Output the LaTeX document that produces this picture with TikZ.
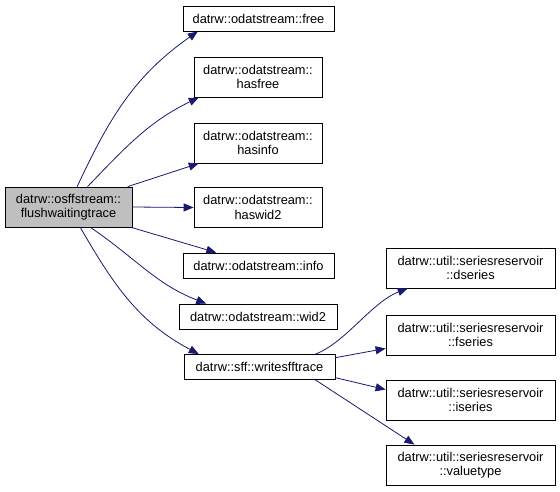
\documentclass[tikz,border=0pt]{standalone}
\usepackage{fontspec}
\setmainfont{Liberation Sans}
\usepackage{tikz}
\usetikzlibrary{arrows.meta}
\definecolor{edgeblue}{HTML}{191970}
\definecolor{maingray}{HTML}{BFBFBF}

\begin{document}
\begin{tikzpicture}[x=1pt,y=-1pt,
    box/.style={shape=rectangle,draw,line width=0.8pt,inner sep=0pt,align=center,
        font=\fontsize{12.8}{14.5}\selectfont},
    onebox/.style={box,minimum height=25pt},
    twobox/.style={box,minimum height=40pt},
    edge/.style={draw=edgeblue,line width=0.8pt,-{Triangle[length=10pt,width=8pt]}}]
    \useasboundingbox (0,0) rectangle (560,491);
    % caller
    \node (main) at (68.5,207) [twobox,fill=maingray,minimum width=127pt] {datrw::osffstream::\\flushwaitingtrace};
    % callees, first column
    \node (free) at (258.5,18.5) [onebox,minimum width=151pt] {datrw::odatstream::free};
    \node (hasfree) at (258,77) [twobox,minimum width=128pt] {datrw::odatstream::\\hasfree};
    \node (hasinfo) at (258,143) [twobox,minimum width=128pt] {datrw::odatstream::\\hasinfo};
    \node (haswid) at (258,207.5) [twobox,minimum width=128pt] {datrw::odatstream::\\haswid2};
    \node (info) at (258.5,265.5) [onebox,minimum width=151pt] {datrw::odatstream::info};
    \node (wid) at (258,316.5) [onebox,minimum width=158pt] {datrw::odatstream::wid2};
    \node (write) at (259.5,367) [onebox,minimum width=151pt] {datrw::sff::writesfftrace};
    % callees, second column
    \node (dseries) at (470.5,268) [twobox,minimum width=169pt] {datrw::util::seriesreservoir\\::dseries};
    \node (fseries) at (470.5,335) [twobox,minimum width=169pt] {datrw::util::seriesreservoir\\::fseries};
    \node (iseries) at (470.5,400) [twobox,minimum width=169pt] {datrw::util::seriesreservoir\\::iseries};
    \node (valuetype) at (470.5,465) [twobox,minimum width=169pt] {datrw::util::seriesreservoir\\::valuetype};
    % calls
    \draw[edge] (main.67) to[out=65,in=215] (free.192);
    \draw[edge] (main.47) to[out=46,in=206] (hasfree.199);
    \draw[edge] (main.19) -- (hasinfo.199);
    \draw[edge] (main.0) -- (haswid.180);
    \draw[edge] (main.-18) -- (info.163);
    \draw[edge] (main.-43) to[out=-34,in=159] (wid.166);
    \draw[edge] (main.-60) to[out=-60,in=152] (write.168);
    \draw[edge] (write.13) .. controls (345,343) and (372,302) .. (dseries.198);
    \draw[edge] (write.7) -- (fseries.189);
    \draw[edge] (write.-8) -- (iseries.173);
    \draw[edge] (write.-13) -- (valuetype.160);
\end{tikzpicture}
\end{document}
